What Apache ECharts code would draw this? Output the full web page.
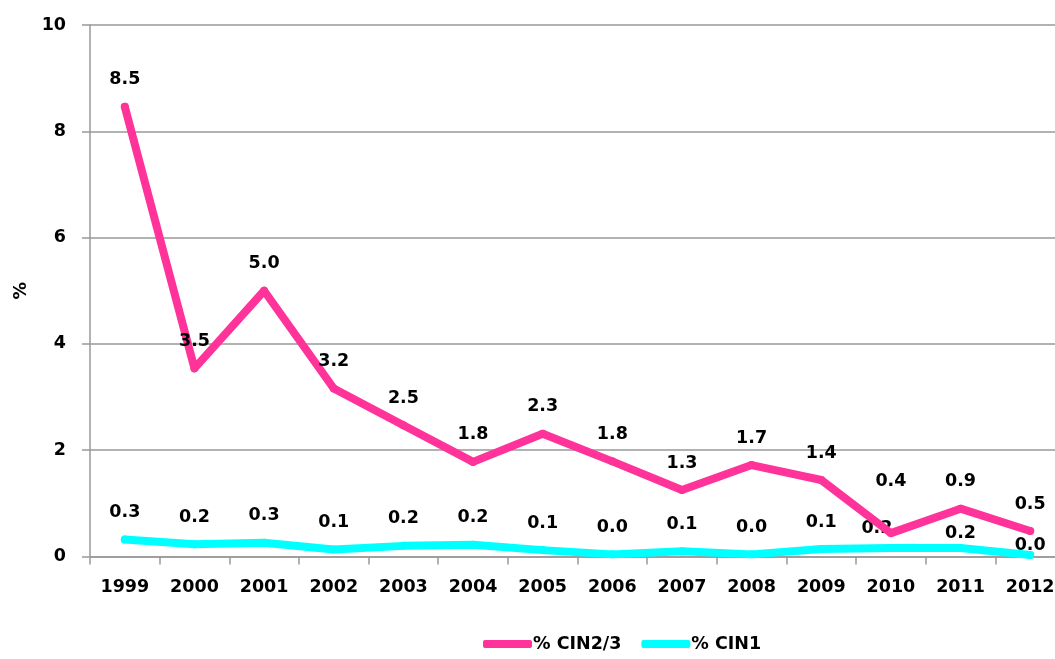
<!DOCTYPE html>
<html>
<head>
<meta charset="utf-8">
<script src="https://cdn.jsdelivr.net/npm/echarts@6/dist/echarts.min.js"></script>
<style>
html,body{margin:0;padding:0;background:#fff;}
#chart{width:1055px;height:659px;}
</style>
</head>
<body>
<div id="chart"></div>
<script>
const years = ['1999','2000','2001','2002','2003','2004','2005','2006','2007','2008','2009','2010','2011','2012'];
const cin23 = [8.46, 3.54, 5.0, 3.16, 2.47, 1.78, 2.31, 1.79, 1.25, 1.72, 1.44, 0.44, 0.9, 0.48];
const cin1 = [0.32, 0.23, 0.26, 0.13, 0.2, 0.22, 0.12, 0.04, 0.1, 0.04, 0.14, 0.16, 0.16, 0.03];
const yTicks = [0, 2, 4, 6, 8, 10];
const seriesNames = ['% CIN2/3', '% CIN1'];

const FONT = 'DejaVu Sans';
const FS = 17.5;
const labelStyle = {
  show: true, position: 'top', distance: 14,
  fontFamily: FONT, fontWeight: 'bold', fontSize: FS, color: '#000',
  formatter: p => p.value.toFixed(1)
};
// per-point label nudges (index -> [dx, dy]) to mimic the reference placement
const nudges23 = {11: [0, -25]};
const nudges1 = {11: [-14, 7], 12: [0, 12], 13: [0, 18]};
function buildData(vals, nudges) {
  return vals.map((v, i) => nudges[i] ? {value: v, label: {offset: nudges[i]}} : v);
}

const chart = echarts.init(document.getElementById('chart'));
chart.setOption({
  animation: false,
  grid: {left: 90, top: 25, right: -10, bottom: 102.5, containLabel: false, outerBoundsMode: 'none'},
  legend: {
    bottom: 1, left: 478, itemGap: 20, itemWidth: 49, itemHeight: 8, icon: 'roundRect',
    textStyle: {fontFamily: FONT, fontWeight: 'bold', fontSize: FS, color: '#000', padding: [0, 0, 0, -4]},
    data: seriesNames
  },
  xAxis: {
    type: 'category', data: years, boundaryGap: true,
    axisLine: {lineStyle: {color: '#999', width: 1.5}},
    axisTick: {show: true, length: 8, lineStyle: {color: '#999', width: 1.5}},
    axisLabel: {margin: 22, fontFamily: FONT, fontWeight: 'bold', fontSize: FS, color: '#000'}
  },
  yAxis: {
    type: 'value', min: yTicks[0], max: yTicks[yTicks.length - 1], interval: yTicks[1] - yTicks[0],
    name: '%', nameLocation: 'middle', nameGap: 60, nameRotate: 90,
    nameTextStyle: {fontFamily: FONT, fontWeight: 'bold', fontSize: FS, color: '#000'},
    axisLine: {show: true, lineStyle: {color: '#999', width: 1.5}},
    axisTick: {show: true, length: 8, lineStyle: {color: '#999', width: 1.5}},
    splitLine: {lineStyle: {color: '#999', width: 1.5}},
    axisLabel: {margin: 24, fontFamily: FONT, fontWeight: 'bold', fontSize: FS, color: '#000'}
  },
  series: [
    {
      name: seriesNames[0], type: 'line', data: buildData(cin23, nudges23),
      symbol: 'circle', symbolSize: 8, showSymbol: true,
      itemStyle: {color: '#FF3399'},
      lineStyle: {color: '#FF3399', width: 8, cap: 'round', join: 'round'},
      label: labelStyle, z: 3
    },
    {
      name: seriesNames[1], type: 'line', data: buildData(cin1, nudges1),
      symbol: 'circle', symbolSize: 8, showSymbol: true,
      itemStyle: {color: '#00FFFF'},
      lineStyle: {color: '#00FFFF', width: 8, cap: 'round', join: 'round'},
      label: labelStyle, z: 2
    }
  ]
});
</script>
</body>
</html>
